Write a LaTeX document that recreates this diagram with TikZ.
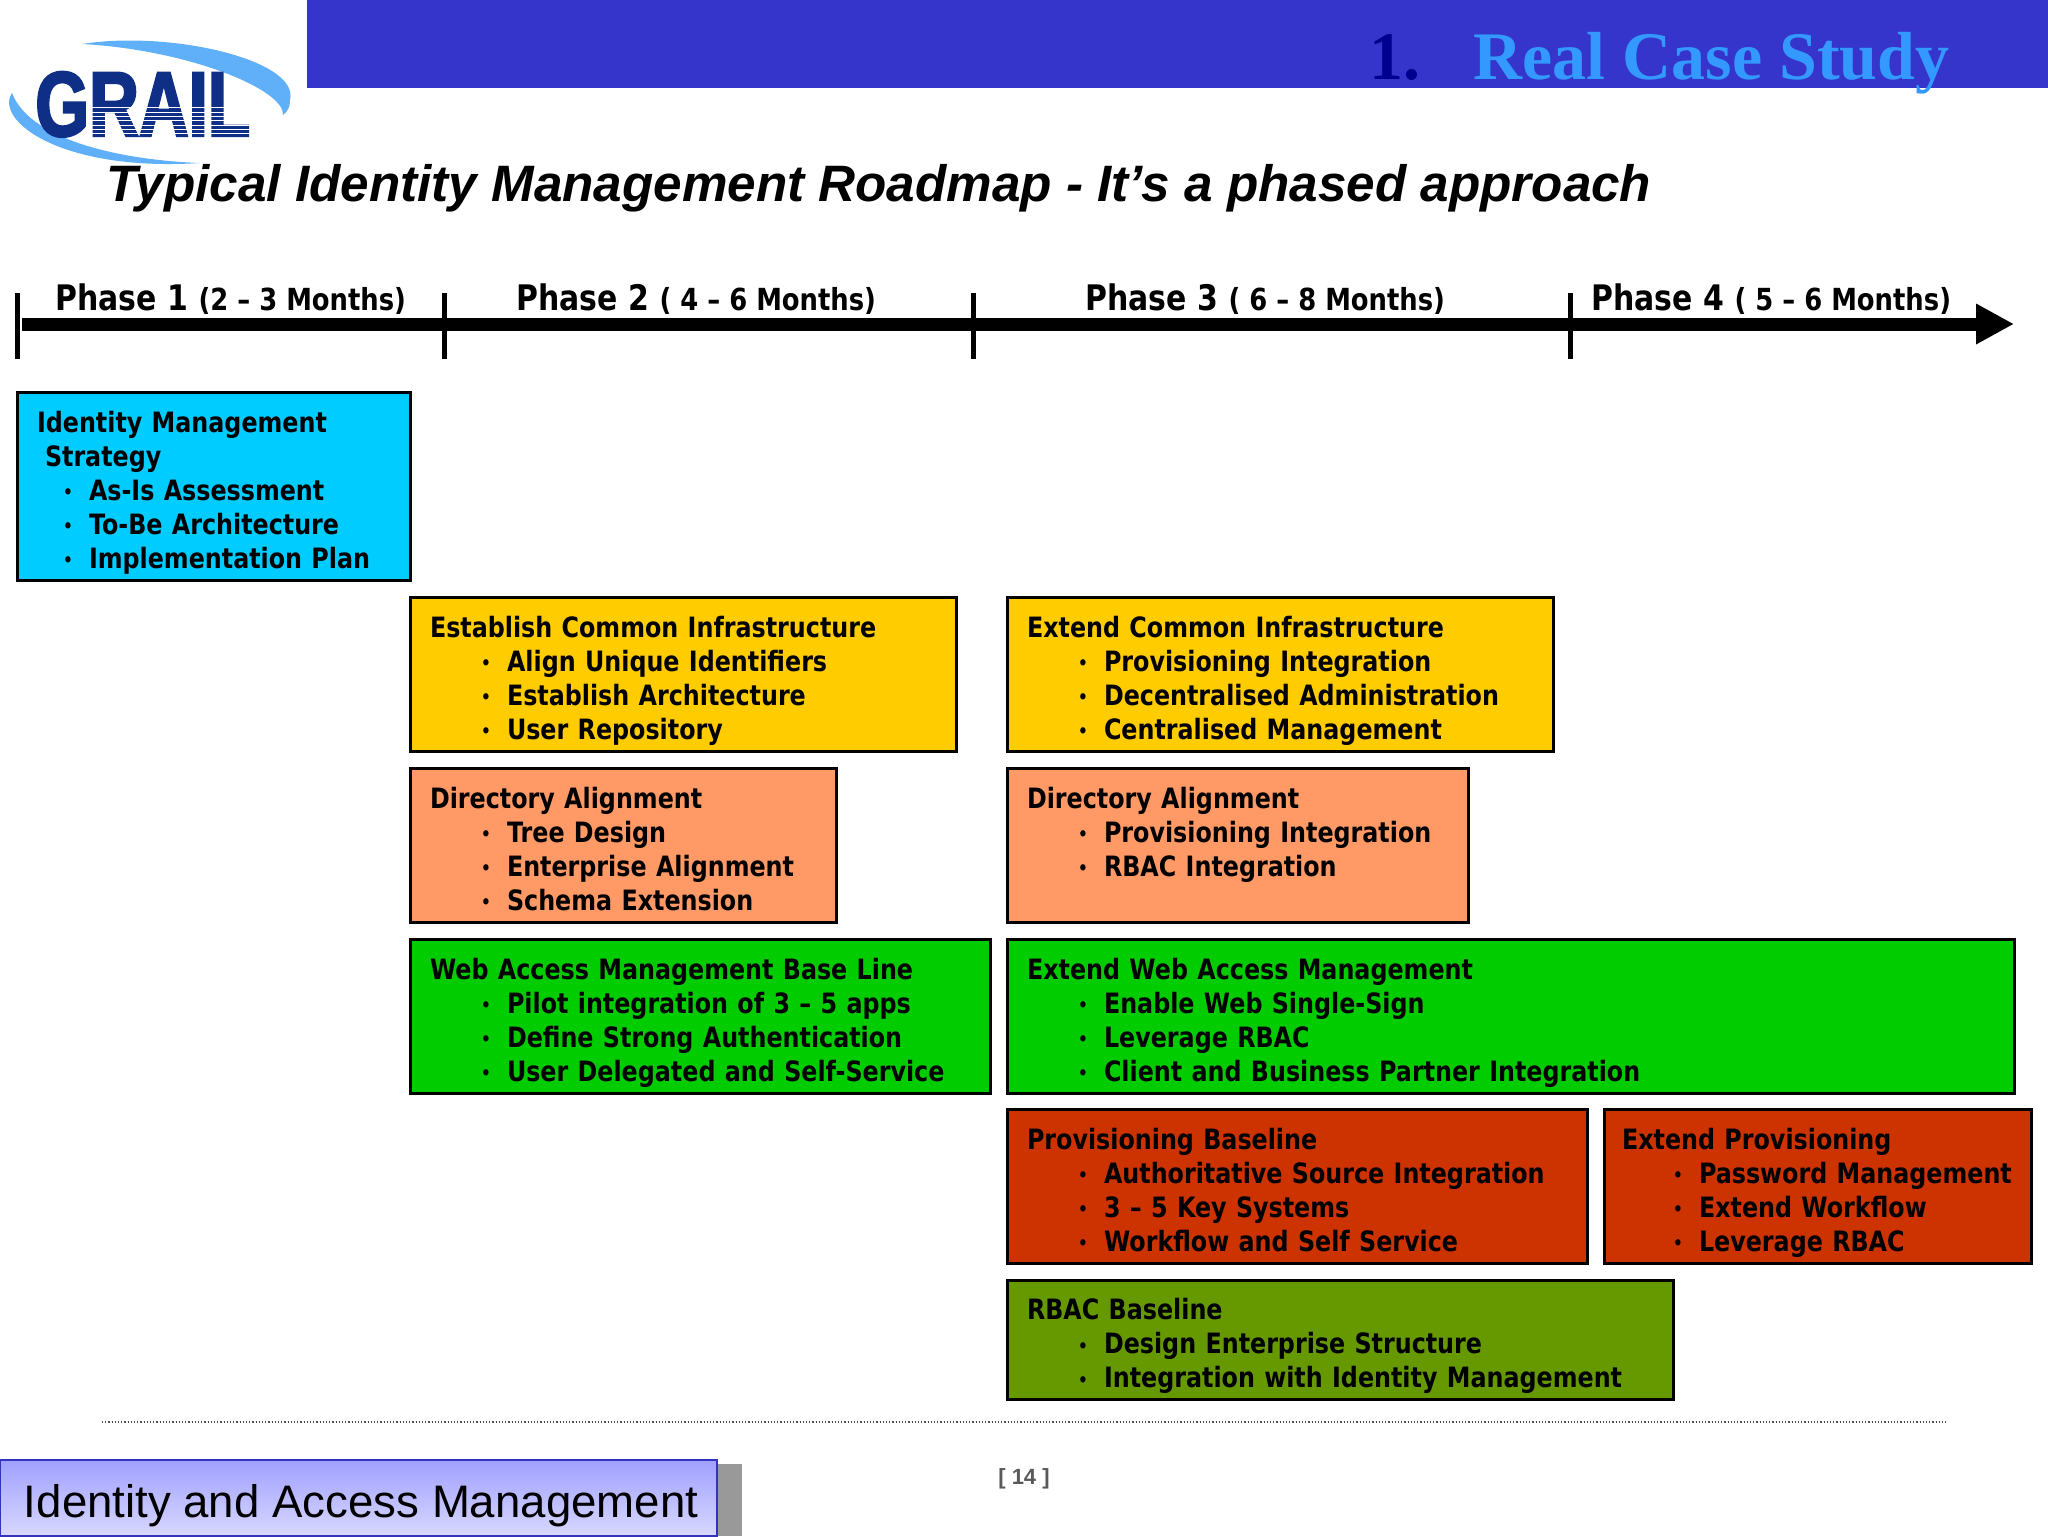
\documentclass[tikz,border=0pt]{standalone}
\usepackage{fontspec}
\usepackage{tikz}
\usetikzlibrary{arrows.meta}
\setmainfont{Liberation Sans}
\newfontfamily\boxfont[BoldFont={DejaVu Sans Bold},BoldFeatures={FakeStretch=0.85}]{DejaVu Sans}
\newfontfamily\logofont[BoldFont={Liberation Sans Bold},BoldFeatures={FakeStretch=0.75,FakeBold=2.5}]{Liberation Sans}
\newfontfamily\headfont{Liberation Serif}
\newcommand{\dotmark}{\raisebox{0.8pt}{\fontsize{9}{9}\selectfont\textbullet}}
\newcommand{\itm}[1]{\mbox{\hbox to 38.5pt{\hfil\dotmark\hspace{8pt}}#1}}
\newcommand{\itmb}[1]{\mbox{\hbox to 26pt{\hfil\dotmark\hspace{8pt}}#1}}
\begin{document}
\begin{tikzpicture}[x=0.5pt, y=-0.5pt, >=Triangle]
      \tikzstyle{planbox} = [draw=black, line width=1.5pt, anchor=north west, align=left, outer sep=0pt,
        inner xsep=10pt, inner ysep=0pt, text=black, font=\boxfont\bfseries\fontsize{14}{17}\selectfont,
        execute at begin node={\rule{0pt}{17.5pt}}, execute at end node={\rule[-3.3pt]{0pt}{3.3pt}}]
      \tikzstyle{phase} = [anchor=base west, inner sep=0pt, font=\boxfont\bfseries\fontsize{17.6}{18}\selectfont]
      \tikzstyle{tick} = [line width=2.5pt]
      \tikzstyle{timeline} = [line width=6.5pt, -{Triangle[length=19pt, width=19pt]}]
      \definecolor{banner}{HTML}{3535CC}
      \definecolor{swoosh}{HTML}{5FB0F8}
      \definecolor{logoblue}{HTML}{0F2F86}
      \useasboundingbox (0,0) rectangle (2048,1536);
      \fill[banner] (307,0) rectangle (2048,88);
      \node (one) [anchor=base west, inner sep=0pt, text={rgb,255:red,0;green,0;blue,144}, font=\headfont\bfseries\fontsize{34}{36}\selectfont] at (1369,80) {1.};
      \node (case) [anchor=base west, inner sep=0pt, text={rgb,255:red,51;green,153;blue,255}, font=\headfont\bfseries\fontsize{34}{36}\selectfont] at (1473,80) {Real Case Study};
      \fill[swoosh] (82,44) .. controls (170,30) and (300,60) .. (290,100) .. controls (290,108) and (287,112) .. (283,115)
        .. controls (285,90) and (190,50) .. (82,44) -- cycle;
      \fill[swoosh] (12,93) .. controls (-6,120) and (60,172) .. (200,163) .. controls (120,160) and (30,140) .. (12,93) -- cycle;
      \node (grail) [anchor=base west, inner sep=0pt, text=logoblue, font=\logofont\bfseries\fontsize{46}{46}\selectfont] at (35,136) {GRAIL};
      \foreach \y in {108,112.3,...,136}
        \draw[white, line width=0.5pt] (90,\y) -- (252,\y);
      \node (title) [anchor=base west, inner sep=0pt, font=\bfseries\itshape\fontsize{25.6}{27}\selectfont] at (106,201)
        {Typical Identity Management Roadmap - It’s a phased approach};
      \coordinate (start) at (22,324);
      \coordinate (stop) at (2014,324);
      \draw[timeline] (start) -- (stop);
      \foreach \x/\name in {17/tickone,444/ticktwo,973/tickthree,1570/tickfour} {
        \coordinate (\name up) at (\x,293);
        \coordinate (\name down) at (\x,359);
        \draw[tick] (\name up) -- (\name down);
      }
      \node (phaseone) [phase] at (55,310) {Phase 1 {\fontsize{15.2}{18}\selectfont (2 – 3 Months)}};
      \node (phasetwo) [phase] at (516,310) {Phase 2 {\fontsize{15.2}{18}\selectfont ( 4 – 6 Months)}};
      \node (phasethree) [phase] at (1085,310) {Phase 3 {\fontsize{15.2}{18}\selectfont ( 6 – 8 Months)}};
      \node (phasefour) [phase] at (1591,310) {Phase 4 {\fontsize{15.2}{18}\selectfont ( 5 – 6 Months)}};
      \node (strategy) [planbox, fill={rgb,255:red,0;green,204;blue,255}, text width=176.5pt, minimum height=94pt] at (17,392)
        {Identity Management\\\hspace*{4pt}Strategy\\\itmb{As-Is Assessment}\\\itmb{To-Be Architecture}\\\itmb{Implementation Plan}};
      \node (infra) [planbox, fill={rgb,255:red,255;green,204;blue,0}, text width=253pt, minimum height=77pt] at (410,597)
        {Establish Common Infrastructure\\\itm{Align Unique Identifiers}\\\itm{Establish Architecture}\\\itm{User Repository}};
      \node (extinfra) [planbox, fill={rgb,255:red,255;green,204;blue,0}, text width=253pt, minimum height=77pt] at (1007,597)
        {Extend Common Infrastructure\\\itm{Provisioning Integration}\\\itm{Decentralised Administration}\\\itm{Centralised Management}};
      \node (dir) [planbox, fill={rgb,255:red,255;green,153;blue,102}, text width=193pt, minimum height=77pt] at (410,768)
        {Directory Alignment\\\itm{Tree Design}\\\itm{Enterprise Alignment}\\\itm{Schema Extension}};
      \node (extdir) [planbox, fill={rgb,255:red,255;green,153;blue,102}, text width=210.5pt, minimum height=77pt] at (1007,768)
        {Directory Alignment\\\itm{Provisioning Integration}\\\itm{RBAC Integration}\\\mbox{}};
      \node (web) [planbox, fill={rgb,255:red,0;green,204;blue,0}, text width=270pt, minimum height=77pt] at (410,939)
        {Web Access Management Base Line\\\itm{Pilot integration of 3 – 5 apps}\\\itm{Define Strong Authentication}\\\itm{User Delegated and Self-Service}};
      \node (extweb) [planbox, fill={rgb,255:red,0;green,204;blue,0}, text width=483.5pt, minimum height=77pt] at (1007,939)
        {Extend Web Access Management\\\itm{Enable Web Single-Sign}\\\itm{Leverage RBAC}\\\itm{Client and Business Partner Integration}};
      \node (prov) [planbox, fill={rgb,255:red,204;green,51;blue,0}, text width=270pt, minimum height=77pt] at (1007,1109)
        {Provisioning Baseline\\\itm{Authoritative Source Integration}\\\itm{3 – 5 Key Systems}\\\itm{Workflow and Self Service}};
      \node (extprov) [planbox, inner xsep=9pt, fill={rgb,255:red,204;green,51;blue,0}, text width=195.5pt, minimum height=77pt] at (1604,1109)
        {Extend Provisioning\\\itm{Password Management}\\\itm{Extend Workflow}\\\itm{Leverage RBAC}};
      \node (rbac) [planbox, fill={rgb,255:red,102;green,153;blue,0}, text width=313pt, minimum height=59.5pt] at (1007,1280)
        {RBAC Baseline\\\itm{Design Enterprise Structure}\\\itm{Integration with Identity Management}};
      \coordinate (ruleleft) at (102,1422);
      \coordinate (ruleright) at (1946,1422);
      \draw[densely dotted, line width=0.6pt, black!70] (ruleleft) -- (ruleright);
      \fill[black!40] (700,1464) rectangle (742,1536);
      \node (footer) [anchor=north west, draw={rgb,255:red,51;green,51;blue,187}, line width=1pt, outer sep=0pt, inner sep=0pt,
        top color={rgb,255:red,160;green,160;blue,255}, bottom color={rgb,255:red,216;green,216;blue,255},
        minimum width=358.5pt, minimum height=38pt, text height=22pt, text depth=3pt, font=\fontsize{22.8}{25}\selectfont] at (0,1460) {\hspace*{2.6pt}Identity and Access Management};
      \node (page) [inner sep=0pt, text=black!65, font=\bfseries\fontsize{11}{13}\selectfont] at (1024,1479) {[ 14 ]};
    \end{tikzpicture}
\end{document}
